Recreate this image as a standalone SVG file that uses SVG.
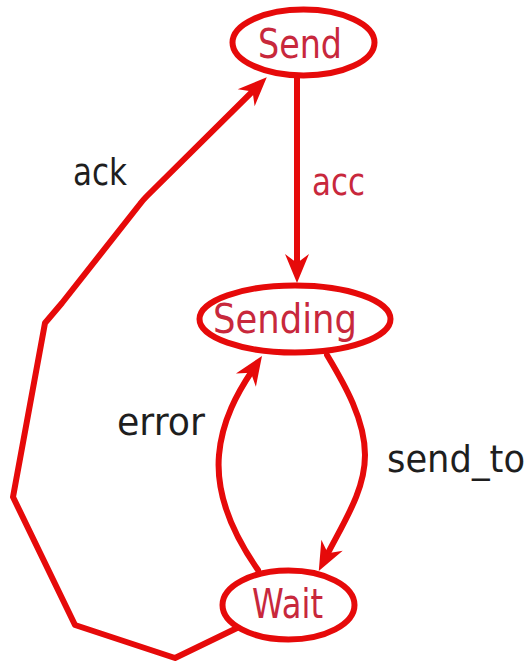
<svg xmlns="http://www.w3.org/2000/svg" width="531" height="663" viewBox="0 0 531 663">
<style>
.node ellipse{fill:#ffffff;stroke:#e60a0a;stroke-width:6}
.node text{font-family:"DejaVu Sans",sans-serif;font-size:31px;fill:#c8283c}
.edge{fill:none;stroke:#e60a0a;stroke-width:6;stroke-linejoin:round;stroke-linecap:round}
.lbl{font-family:"DejaVu Sans",sans-serif;font-size:30px;fill:#1e1e1e}
.lbl.red{fill:#c8283c}
</style>
<defs>
<marker id="arr" markerUnits="userSpaceOnUse" viewBox="-32 -14 34 28" markerWidth="34" markerHeight="28" refX="-18" refY="0" orient="auto">
<path d="M0,0 L-29,-12 L-20,0 L-29,12 Z" fill="#e60a0a"/>
</marker>
</defs>
<rect width="531" height="663" fill="#ffffff"/>
<g id="connectors">
<path class="edge" d="M297,78 L297,265" marker-end="url(#arr)"/>
<path class="edge" d="M237,628 L175,658 L75,625 L13,497 L45,323 L62,303 L140,204 Q143,200 147,196 L254,90" marker-end="url(#arr)"/>
<path class="edge" d="M258,570 C230,530 216,490 219,455 C222,420 238,392 252,371" marker-end="url(#arr)"/>
<path class="edge" d="M327,355 C345,385 365,420 365,455 C365,490 345,520 327,555" marker-end="url(#arr)"/>
<text class="lbl red" transform="matrix(1 0 0 1.22 312 195)" textLength="53" lengthAdjust="spacingAndGlyphs">acc</text>
<text class="lbl" transform="matrix(1 0 0 1.22 73 185)" textLength="54" lengthAdjust="spacingAndGlyphs">ack</text>
<text class="lbl" transform="matrix(1 0 0 1.22 117 435)" textLength="88" lengthAdjust="spacingAndGlyphs">error</text>
<text class="lbl" transform="matrix(1 0 0 1.22 387 472)" textLength="138" lengthAdjust="spacingAndGlyphs">send_to</text>
</g>
<g id="node-send" class="node">
<ellipse cx="303.5" cy="42.5" rx="71" ry="33"/>
<text transform="matrix(1 0 0 1.3 258 58)" textLength="84" lengthAdjust="spacingAndGlyphs">Send</text>
</g>
<g id="node-sending" class="node">
<ellipse cx="295" cy="319" rx="95.5" ry="33.5"/>
<text transform="matrix(1 0 0 1.3 213 333)" textLength="144" lengthAdjust="spacingAndGlyphs">Sending</text>
</g>
<g id="node-wait" class="node">
<ellipse cx="288.5" cy="605" rx="66" ry="34.5"/>
<text transform="matrix(1 0 0 1.3 252 618)" textLength="71" lengthAdjust="spacingAndGlyphs">Wait</text>
</g>
</svg>
